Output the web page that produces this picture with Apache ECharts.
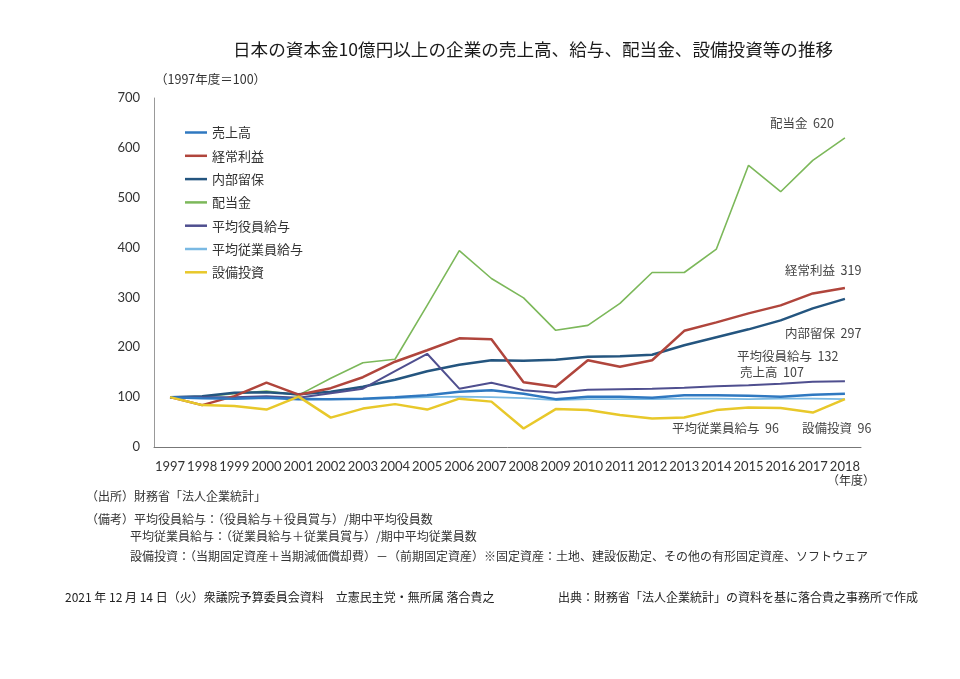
<!DOCTYPE html>
<html><head><meta charset="utf-8">
<script src="https://cdn.jsdelivr.net/npm/echarts@6/dist/echarts.min.js"></script>
<style>html,body{margin:0;padding:0;background:#fff}#c{width:960px;height:679px}</style>
</head><body><div id="c"></div>
<script>
const years = ['1997','1998','1999','2000','2001','2002','2003','2004','2005','2006','2007','2008','2009','2010','2011','2012','2013','2014','2015','2016','2017','2018'];
const uriage  = [100, 98, 97, 99, 96, 96, 97, 100, 104, 111, 114, 107, 96, 101, 101, 99, 104, 104, 103, 101, 105, 107];
const keijo   = [100, 84, 102, 129, 105, 118, 140, 171, 194, 218, 216, 130, 121, 174, 161, 174, 233, 250, 268, 284, 308, 319];
const naibu   = [100, 102, 109, 110, 106, 111, 121, 135, 152, 165, 174, 173, 175, 181, 182, 185, 204, 220, 236, 254, 278, 297];
const haito   = [100, 101, 107, 112, 104, 138, 169, 176, 284, 394, 338, 299, 234, 244, 288, 350, 350, 397, 565, 512, 575, 620];
const yakuin  = [100, 100, 100, 102, 99, 108, 117, 152, 187, 117, 129, 114, 109, 115, 116, 117, 119, 122, 124, 127, 131, 132];
const jugyoin = [100, 99, 99, 100, 98, 96, 96, 98, 100, 101, 100, 98, 94, 96, 96, 96, 97, 97, 96, 97, 97, 96];
const setsubi = [100, 84, 82, 75, 101, 59, 77, 86, 75, 97, 91, 37, 76, 74, 64, 57, 59, 74, 79, 78, 69, 96];
const yTicks = [0, 100, 200, 300, 400, 500, 600, 700];

const F = '"Noto Sans CJK JP", "Noto Sans", sans-serif';
function mk(name, data, color, width, off, z) {
  return {
    name, type: 'line', data, showSymbol: false, symbol: 'none', z: z,
    lineStyle: { color, width }, itemStyle: { color },
    emphasis: { disabled: true }, animation: false,
    endLabel: { show: true, formatter: p => p.seriesName + '  ' + p.value, distance: 0,
      offset: off, color: '#444', fontSize: 12.5, fontFamily: F }
  };
}
const chart = echarts.init(document.getElementById('c'), null, { renderer: 'canvas' });
chart.setOption({
  backgroundColor: '#fff',
  animation: false,
  title: { text: '日本の資本金10億円以上の企業の売上高、給与、配当金、設備投資等の推移',
    left: 228, top: 36, textStyle: { fontFamily: F, fontSize: 17.6, fontWeight: 'normal', color: '#1a1a1a' } },
  legend: {
    orient: 'vertical', left: 180, top: 121, icon: 'rect', itemWidth: 22, itemHeight: 2.5, itemGap: 10.3,
    textStyle: { fontFamily: F, fontSize: 13, color: '#333' },
    data: ['売上高','経常利益','内部留保','配当金','平均役員給与','平均従業員給与','設備投資']
  },
  grid: { left: 154, right: 99, top: 98, bottom: 232, containLabel: false },
  xAxis: { type: 'category', data: years, boundaryGap: true,
    axisLine: { lineStyle: { color: '#777', width: 1 } }, axisTick: { show: false },
    axisLabel: { color: '#333', fontSize: 13, margin: 13, fontFamily: 'Lato, "Open Sans", sans-serif', interval: 0 } },
  yAxis: { type: 'value', min: yTicks[0], max: yTicks[yTicks.length-1], interval: 100,
    axisLine: { show: true, lineStyle: { color: '#999', width: 1 } }, axisTick: { show: false },
    splitLine: { show: false },
    axisLabel: { color: '#333', fontSize: 13, margin: 14, fontFamily: 'Lato, "Open Sans", sans-serif' } },
  series: [
    mk('売上高', uriage, '#2f78c0', 2.5, [-105, -21], 5),
    mk('経常利益', keijo, '#b0453c', 2.5, [-60, -18], 4),
    mk('内部留保', naibu, '#24557f', 2.5, [-60, 34], 3),
    mk('配当金', haito, '#7cb85a', 1.6, [-75, -15], 2),
    mk('平均役員給与', yakuin, '#4f4f8f', 2, [-108, -25], 3),
    mk('平均従業員給与', jugyoin, '#7ab9e3', 1.6, [-173, 29], 2),
    mk('設備投資', setsubi, '#e8c82a', 2.5, [-43, 29], 6)
  ],
  graphic: [
    { type: 'text', left: 155, top: 73, style: { text: '（1997年度＝100）', font: '12.5px ' + F, fill: '#333' } },
    { type: 'text', left: 827, top: 474, style: { text: '（年度）', font: '12px ' + F, fill: '#333' } },
    { type: 'text', left: 86, top: 490, style: { text: '（出所）財務省「法人企業統計」', font: '12px ' + F, fill: '#333' } },
    { type: 'text', left: 86, top: 513, style: { text: '（備考）平均役員給与：（役員給与＋役員賞与）/期中平均役員数', font: '12px ' + F, fill: '#333' } },
    { type: 'text', left: 130, top: 530, style: { text: '平均従業員給与：（従業員給与＋従業員賞与）/期中平均従業員数', font: '12px ' + F, fill: '#333' } },
    { type: 'text', left: 130, top: 550, style: { text: '設備投資：（当期固定資産＋当期減価償却費）－（前期固定資産）※固定資産：土地、建設仮勘定、その他の有形固定資産、ソフトウェア', font: '12px ' + F, fill: '#333' } },
    { type: 'text', left: 65, top: 591, style: { text: '2021 年 12 月 14 日（火）衆議院予算委員会資料　立憲民主党・無所属 落合貴之', font: '12px ' + F, fill: '#222' } },
    { type: 'text', right: 42, top: 591, style: { text: '出典：財務省「法人企業統計」の資料を基に落合貴之事務所で作成', font: '12px ' + F, fill: '#222' } }
  ]
});
</script></body></html>
